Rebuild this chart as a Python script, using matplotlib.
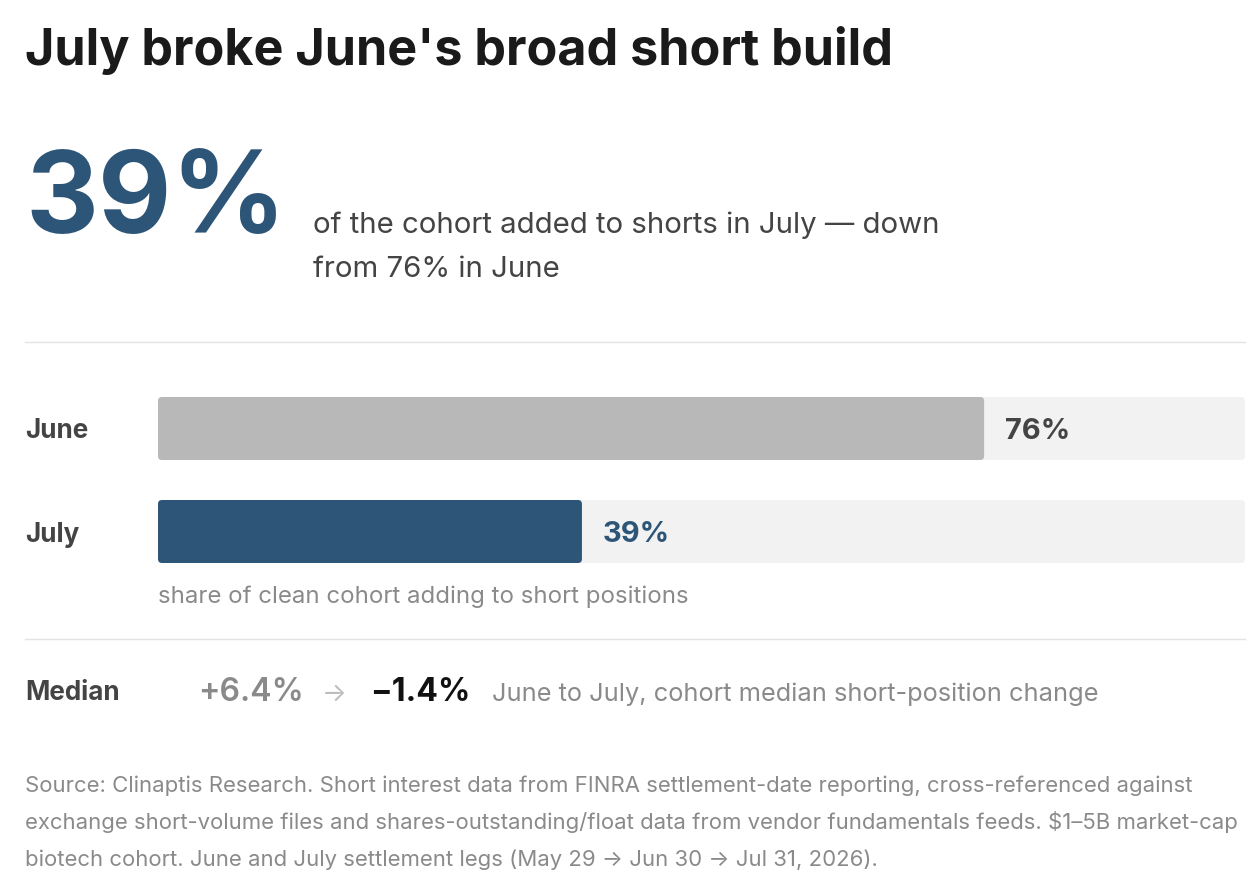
import matplotlib
matplotlib.use("Agg")
import matplotlib.pyplot as plt
from matplotlib.patches import FancyBboxPatch

# ---- data ----
title = "July broke June's broad short build"
headline_value = "39%"
headline_text = ["of the cohort added to shorts in July \u2014 down", "from 76% in June"]
months = ["June", "July"]
shares = [76, 39]
bar_colors = ["#b8b8b8", "#2d5578"]
label_colors = ["#444444", "#2d5578"]
axis_note = "share of clean cohort adding to short positions"
median_label = "Median"
median_june = "+6.4%"
median_july = "\u22121.4%"
median_note = "June to July, cohort median short-position change"
footer = [
    "Source: Clinaptis Research. Short interest data from FINRA settlement-date reporting, cross-referenced against",
    "exchange short-volume files and shares-outstanding/float data from vendor fundamentals feeds. $1\u20135B market-cap",
    "biotech cohort. June and July settlement legs (May 29 \u2192 Jun 30 \u2192 Jul 31, 2026).",
]

W, H = 1260, 881
plt.rcParams['font.family'] = ['Inter', 'DejaVu Sans']
fig = plt.figure(figsize=(W / 100, H / 100), dpi=100)
fig.patch.set_facecolor("white")

def fx(x):
    return x / W

def fy(y):
    return 1 - y / H

def px(s):
    return s * 0.72

def txt(x, y, s, size, color, weight="normal", ha="left", va="baseline"):
    return fig.text(fx(x), fy(y), s, fontsize=px(size), color=color,
                    fontweight=weight, ha=ha, va=va)

# title
txt(25, 65, title, 50.3, "#1a1a1a", "bold")
# headline
txt(25, 233, headline_value, 113, "#2d5578", "bold")
txt(313, 233, headline_text[0], 29.4, "#444444")
txt(313, 277, headline_text[1], 29.4, "#444444")

# separators
for yy in (342, 639):
    fig.add_artist(plt.Line2D([fx(25), fx(1245)], [fy(yy), fy(yy)],
                              color="#e3e3e3", linewidth=1.0))

# bar axes
x0, x1 = 158, 1245
ytop, ybot = 397, 563
ax = fig.add_axes([fx(x0), fy(ybot), fx(x1) - fx(x0), (ybot - ytop) / H])
ax.set_xlim(0, 100)
bar_h_px = 63
step_px = 103
bh = bar_h_px / step_px
ax.set_ylim(len(months) - 1 + bh / 2, -bh / 2)
ax.axis("off")
x_per_px = 100 / (x1 - x0)
y_per_px = 1 / step_px
r_px = 4
aspect = y_per_px / x_per_px
for i, (m, v) in enumerate(zip(months, shares)):
    track = FancyBboxPatch((0, i - bh / 2), 100, bh,
                           boxstyle=f"round,pad=0,rounding_size={r_px * x_per_px}",
                           mutation_aspect=aspect, facecolor="#f2f2f2",
                           edgecolor="none")
    ax.add_patch(track)
    bar = FancyBboxPatch((0, i - bh / 2), v, bh,
                         boxstyle=f"round,pad=0,rounding_size={r_px * x_per_px}",
                         mutation_aspect=aspect, facecolor=bar_colors[i],
                         edgecolor="none")
    ax.add_patch(bar)
    ax.text(v + 21 * x_per_px, i, f"{v}%", fontsize=px(29), fontweight="bold",
            color=label_colors[i], ha="left", va="center_baseline")
    fig.text(fx(25), fy(ytop + i * step_px + bar_h_px / 2), m, fontsize=px(26),
             fontweight="bold", color="#444444", ha="left", va="center_baseline")

txt(158, 603, axis_note, 24, "#8a8a8a")

# median row
txt(25, 700, median_label, 26, "#444444", "bold")
txt(198, 701, median_june, 32, "#8a8a8a", "semibold")
txt(322, 701, "\u2192", 26, "#bdbdbd")
txt(370, 701, median_july, 32, "#111111", "bold")
txt(492, 701, median_note, 25.4, "#8a8a8a")

# footer
for k, line in enumerate(footer):
    txt(25, 792 + k * 37, line, 22.1, "#8a8a8a")

fig.savefig("out.png", dpi=100, facecolor="white")
